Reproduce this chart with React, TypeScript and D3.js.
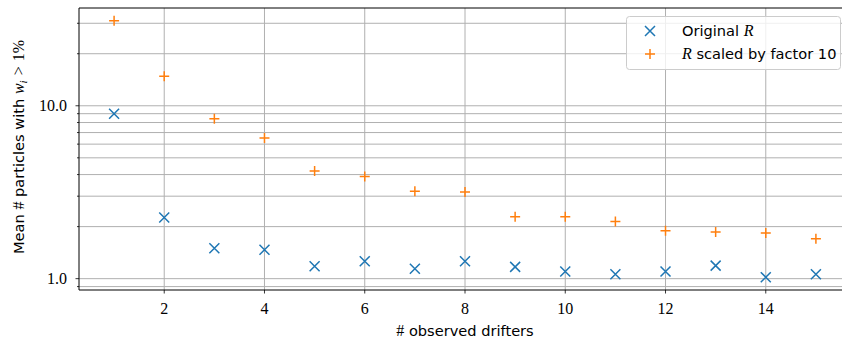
import React from "react";
import * as d3 from "d3";

// number of observed drifters
const drifters = [1, 2, 3, 4, 5, 6, 7, 8, 9, 10, 11, 12, 13, 14, 15];
// mean # particles with w_i > 1%, original R
const originalR = [9.0, 2.26, 1.5, 1.47, 1.18, 1.26, 1.14, 1.26, 1.17, 1.1, 1.06, 1.1, 1.19, 1.02, 1.06];
// same, with R scaled by factor 10
const scaledR = [31.0, 14.8, 8.4, 6.5, 4.2, 3.9, 3.2, 3.17, 2.28, 2.28, 2.14, 1.89, 1.86, 1.84, 1.7];
const xTicks = [2, 4, 6, 8, 10, 12, 14];
const yMajorTicks = [1, 10];
const yMinorTicks = [0.9, 2, 3, 4, 5, 6, 7, 8, 9, 20, 30];

class App extends React.Component {
  constructor(props: any) {
    super(props);
    this.drawChart = this.drawChart.bind(this);
  }

  componentDidMount() {
    this.drawChart();
  }

  drawChart() {
    var width = 842,
      height = 344;
    var left = 79,
      right = 851,
      top = 8,
      bottom = 290;

    var blue = "#1f77b4",
      orange = "#ff7f0e",
      gridColor = "#b0b0b0";
    var serif = "'Liberation Serif', serif";
    var sans = "'DejaVu Sans', sans-serif";
    var sansSize = "14.6px";

    d3.select("#chart").selectAll("*").remove();
    var svg = d3
      .select("#chart")
      .append("svg")
      .attr("width", width)
      .attr("height", height)
      .style("display", "block")
      .style("background", "white");

    // x: matplotlib-like 5% margins
    var xmin = d3.min(drifters) as number,
      xmax = d3.max(drifters) as number;
    var xpad = (xmax - xmin) * 0.05;
    var x = d3.scaleLinear().domain([xmin - xpad, xmax + xpad]).range([left, right]);

    // y: log scale with 5% margins in log space
    var all = originalR.concat(scaledR);
    var lmin = Math.log10(d3.min(all) as number),
      lmax = Math.log10(d3.max(all) as number);
    var lpad = (lmax - lmin) * 0.05;
    var y = d3
      .scaleLog()
      .domain([Math.pow(10, lmin - lpad), Math.pow(10, lmax + lpad)])
      .range([bottom, top]);

    var clip = svg.append("defs").append("clipPath").attr("id", "plotclip");
    clip.append("rect").attr("x", left).attr("y", top).attr("width", right - left).attr("height", bottom - top);

    // grid
    var grid = svg.append("g");
    grid
      .selectAll("line.gy")
      .data(yMajorTicks.concat(yMinorTicks))
      .enter()
      .append("line")
      .attr("x1", left)
      .attr("x2", right)
      .attr("y1", (d) => y(d))
      .attr("y2", (d) => y(d))
      .attr("stroke", gridColor)
      .attr("stroke-width", 1);
    grid
      .selectAll("line.gx")
      .data(xTicks)
      .enter()
      .append("line")
      .attr("x1", (d) => x(d))
      .attr("x2", (d) => x(d))
      .attr("y1", top)
      .attr("y2", bottom)
      .attr("stroke", gridColor)
      .attr("stroke-width", 1);

    // ticks
    var ticks = svg.append("g").attr("stroke", "black").attr("stroke-width", 0.8);
    ticks
      .selectAll("line.ymaj")
      .data(yMajorTicks)
      .enter()
      .append("line")
      .attr("x1", left - 3.5)
      .attr("x2", left)
      .attr("y1", (d) => y(d))
      .attr("y2", (d) => y(d));
    ticks
      .selectAll("line.ymin")
      .data(yMinorTicks)
      .enter()
      .append("line")
      .attr("x1", left - 2)
      .attr("x2", left)
      .attr("y1", (d) => y(d))
      .attr("y2", (d) => y(d));
    ticks
      .selectAll("line.xt")
      .data(xTicks)
      .enter()
      .append("line")
      .attr("x1", (d) => x(d))
      .attr("x2", (d) => x(d))
      .attr("y1", bottom)
      .attr("y2", bottom + 3.5);

    // tick labels
    svg
      .selectAll("text.xl")
      .data(xTicks)
      .enter()
      .append("text")
      .attr("x", (d) => x(d))
      .attr("y", 314)
      .attr("text-anchor", "middle")
      .style("font-family", serif)
      .style("font-size", "16px")
      .text((d) => String(d));
    svg
      .selectAll("text.yl")
      .data(yMajorTicks)
      .enter()
      .append("text")
      .attr("x", left - 12)
      .attr("y", (d) => y(d))
      .attr("dy", "0.35em")
      .attr("text-anchor", "end")
      .style("font-family", serif)
      .style("font-size", "16px")
      .text((d) => d.toFixed(1));

    // markers
    var plot = svg.append("g").attr("clip-path", "url(#plotclip)");
    var s = 5;
    plot
      .selectAll("path.xm")
      .data(drifters)
      .enter()
      .append("path")
      .attr("d", (d, i) => {
        var cx = x(d),
          cy = y(originalR[i]);
        return `M${cx - s},${cy - s}L${cx + s},${cy + s}M${cx - s},${cy + s}L${cx + s},${cy - s}`;
      })
      .attr("stroke", blue)
      .attr("stroke-width", 1.5)
      .attr("fill", "none");
    plot
      .selectAll("path.pm")
      .data(drifters)
      .enter()
      .append("path")
      .attr("d", (d, i) => {
        var cx = x(d),
          cy = y(scaledR[i]);
        return `M${cx - s},${cy}L${cx + s},${cy}M${cx},${cy - s}L${cx},${cy + s}`;
      })
      .attr("stroke", orange)
      .attr("stroke-width", 1.5)
      .attr("fill", "none");

    // spines (right one falls past the edge of the picture)
    var spines = svg.append("g").attr("stroke", "black").attr("stroke-width", 1).attr("fill", "none");
    spines.append("line").attr("x1", left).attr("x2", left).attr("y1", top).attr("y2", bottom);
    spines.append("line").attr("x1", left).attr("x2", right).attr("y1", bottom).attr("y2", bottom);
    spines.append("line").attr("x1", left).attr("x2", right).attr("y1", top).attr("y2", top);
    spines.append("line").attr("x1", right).attr("x2", right).attr("y1", top).attr("y2", bottom);

    // axis labels
    var xlab = svg
      .append("text")
      .attr("x", (left + right) / 2)
      .attr("y", 336)
      .attr("text-anchor", "middle")
      .style("font-family", sans)
      .style("font-size", sansSize);
    xlab.append("tspan").style("font-family", serif).style("font-size", "16px").text("#");
    xlab.append("tspan").text(" observed drifters");

    var ylab = svg
      .append("text")
      .attr("transform", `translate(24,147) rotate(-90)`)
      .attr("text-anchor", "middle")
      .style("font-family", sans)
      .style("font-size", sansSize);
    ylab.append("tspan").text("Mean ");
    ylab.append("tspan").style("font-family", serif).style("font-size", "16px").text("#");
    ylab.append("tspan").text(" particles with ");
    ylab.append("tspan").style("font-family", serif).style("font-style", "italic").style("font-size", "16px").text("w");
    ylab
      .append("tspan")
      .style("font-family", serif)
      .style("font-style", "italic")
      .style("font-size", "11px")
      .attr("dy", 3)
      .text("i");
    ylab.append("tspan").attr("dy", -3).attr("dx", 5).style("font-family", serif).style("font-size", "16px").text(">");
    ylab.append("tspan").attr("dx", 5).style("font-family", serif).style("font-size", "16px").text("1%");

    // legend
    var legend = svg.append("g");
    legend
      .append("rect")
      .attr("x", 626.5)
      .attr("y", 16.5)
      .attr("width", 214)
      .attr("height", 53)
      .attr("rx", 3)
      .attr("fill", "white")
      .attr("fill-opacity", 0.8)
      .attr("stroke", "#cccccc")
      .attr("stroke-width", 1);
    var entries = [
      { color: blue, kind: "x", cy: 31 },
      { color: orange, kind: "+", cy: 54 },
    ];
    legend
      .selectAll("path.lm")
      .data(entries)
      .enter()
      .append("path")
      .attr("d", (d) => {
        var cx = 650,
          cy = d.cy;
        return d.kind === "x"
          ? `M${cx - s},${cy - s}L${cx + s},${cy + s}M${cx - s},${cy + s}L${cx + s},${cy - s}`
          : `M${cx - s},${cy}L${cx + s},${cy}M${cx},${cy - s}L${cx},${cy + s}`;
      })
      .attr("stroke", (d) => d.color)
      .attr("stroke-width", 1.5)
      .attr("fill", "none");

    var t1 = legend
      .append("text")
      .attr("x", 682)
      .attr("y", 31)
      .attr("dy", "0.35em")
      .style("font-family", sans)
      .style("font-size", sansSize);
    t1.append("tspan").text("Original ");
    t1.append("tspan").style("font-family", serif).style("font-style", "italic").style("font-size", "16px").text("R");

    var t2 = legend
      .append("text")
      .attr("x", 682)
      .attr("y", 54)
      .attr("dy", "0.35em")
      .style("font-family", sans)
      .style("font-size", sansSize);
    t2.append("tspan").style("font-family", serif).style("font-style", "italic").style("font-size", "16px").text("R");
    t2.append("tspan").text(" scaled by factor 10");
  }

  render() {
    return (
      <div
        id="chart"
        style={{ position: "absolute", left: 0, top: 0, width: 842, height: 344 }}
      ></div>
    );
  }
}

export default App;
